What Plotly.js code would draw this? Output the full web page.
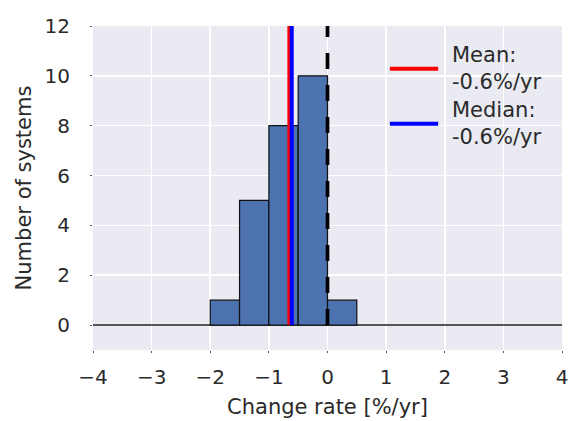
<!DOCTYPE html>
<html><head><meta charset="utf-8">
<script src="https://cdn.plot.ly/plotly-3.0.1.min.js"></script>
<style>body{margin:0;padding:0;background:#fff}#plot{width:570px;height:421px}</style>
</head><body><div id="plot"></div>
<script>
// Histogram bins (left edges, width 0.5) and counts
const binStarts = [-2.0, -1.5, -1.0, -0.5, 0.0];
const binWidth = 0.5;
const counts = [1, 5, 8, 10, 1];
const meanRate = -0.65;
const medianRate = -0.61;
const legendLabels = ["Mean:<br>-0.6%/yr", "Median:<br>-0.6%/yr"];
const xTicks = [-4, -3, -2, -1, 0, 1, 2, 3, 4];
const yTicks = [0, 2, 4, 6, 8, 10, 12];
const yTop = 12;

const centers = binStarts.map(s => s + binWidth / 2);
const font = "DejaVu Sans, sans-serif";
const txt = "#2a2a2a";

const traces = [
  {type: 'bar', x: centers, y: counts, width: binWidth,
   marker: {color: '#4C72B0', line: {color: '#111', width: 1.2}},
   showlegend: false, hoverinfo: 'skip'},
  {type: 'scatter', mode: 'lines', x: [0, 0], y: [0, yTop],
   line: {color: 'black', width: 3.7, dash: '16px,16px'}, showlegend: false},
  {type: 'scatter', mode: 'lines', x: [meanRate, meanRate], y: [0, yTop],
   line: {color: '#ff0000', width: 4}, showlegend: false},
  {type: 'scatter', mode: 'lines', x: [medianRate, medianRate], y: [0, yTop],
   line: {color: '#0000ff', width: 4}, showlegend: false}
];

const legY = [0.868, 0.698];
const legColors = ['#ff0000', '#0000ff'];
const shapes = legY.map((y, i) => ({type: 'line', xref: 'paper', yref: 'paper',
  x0: 0.633, x1: 0.736, y0: y, y1: y, line: {color: legColors[i], width: 4}}));
const annotations = legY.map((y, i) => ({xref: 'paper', yref: 'paper', x: 0.762, y: y,
  xanchor: 'left', yanchor: 'middle', align: 'left', showarrow: false,
  text: legendLabels[i], font: {family: font, size: 21, color: txt}}));

const layout = {
  width: 570, height: 421,
  margin: {l: 93, r: 8, t: 26, b: 71},
  paper_bgcolor: 'white', plot_bgcolor: '#EAEAF2',
  font: {family: font, color: txt, size: 20},
  showlegend: false,
  xaxis: {range: [-4, 4], tickvals: xTicks, showgrid: true, gridcolor: 'white', gridwidth: 1.6,
    zeroline: false, showline: false, ticks: 'outside', ticklen: 2, tickcolor: '#555',
    ticklabelstandoff: 7, tickfont: {size: 20, color: txt},
    title: {text: 'Change rate [%/yr]', font: {size: 21, color: txt}, standoff: 11}},
  yaxis: {range: [-1, 12], tickvals: yTicks, showgrid: true, gridcolor: 'white', gridwidth: 1.6,
    zeroline: true, zerolinecolor: '#555', zerolinewidth: 1.2, showline: false,
    ticks: 'outside', ticklen: 2, tickcolor: '#555', ticklabelstandoff: 16, tickfont: {size: 20, color: txt},
    title: {text: 'Number of systems', font: {size: 21, color: txt}, standoff: 7}},
  shapes: shapes, annotations: annotations, bargap: 0
};
Plotly.newPlot('plot', traces, layout, {displayModeBar: false, staticPlot: true});
</script></body></html>
